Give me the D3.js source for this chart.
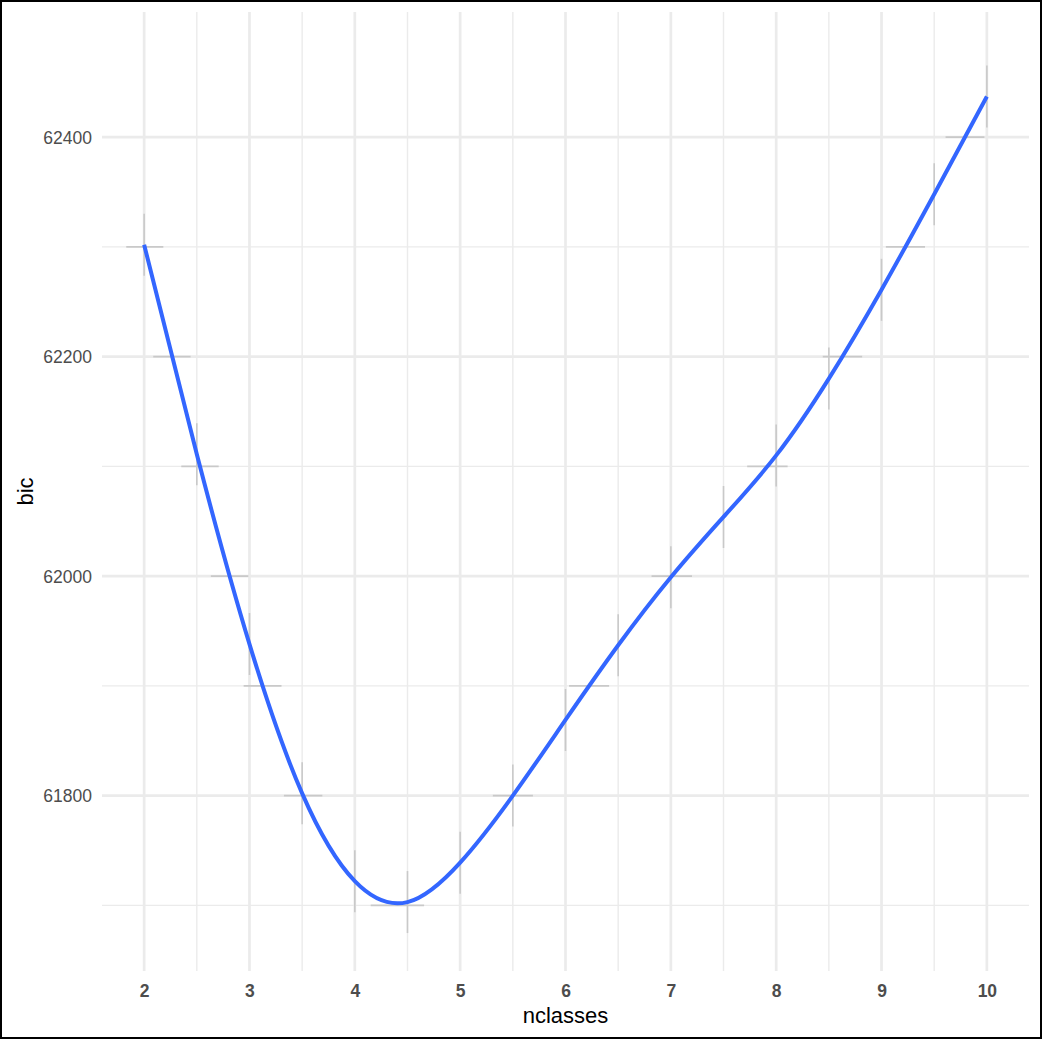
<!DOCTYPE html>
<html><head><meta charset="utf-8">
<script src="https://cdn.jsdelivr.net/npm/d3@7"></script>
<style>
html,body{margin:0;padding:0;background:#fff;}
svg{display:block;}
</style></head>
<body>
<script>
// Data
const nclasses = [2, 2.5, 3, 3.5, 4, 4.5, 5, 5.5, 6, 6.5, 7, 7.5, 8, 8.5, 9, 9.5, 10];
const bic = [62302, 62111, 61938, 61802, 61722, 61703, 61739, 61800, 61869, 61937, 61999, 62054, 62110, 62180, 62261, 62348, 62437];
const xTicks = [2, 3, 4, 5, 6, 7, 8, 9, 10];
const xMinor = [2.5, 3.5, 4.5, 5.5, 6.5, 7.5, 8.5, 9.5];
const yTicks = [61800, 62000, 62200, 62400];
const yMinor = [61700, 61900, 62100, 62300];

(function () {
const W = 1042, H = 1039;
const svg = d3.select("body").append("svg").attr("width", W).attr("height", H);
svg.append("rect").attr("x", 1).attr("y", 1).attr("width", W - 2).attr("height", H - 2)
  .attr("fill", "#fff").attr("stroke", "#000").attr("stroke-width", 2);

const pTop = 12, pBottom = 971, pLeft = 102, pRight = 1029;
const x = d3.scaleLinear().domain([1.6, 10.4]).range([pLeft, pRight]);
const y = d3.scaleLinear().domain([61640.2, 62514]).range([pBottom, pTop]);

const g = svg.append("g");
g.selectAll(".vmin").data(xMinor).join("line")
  .attr("x1", d => x(d)).attr("x2", d => x(d)).attr("y1", pTop).attr("y2", pBottom)
  .attr("stroke", "#ebebeb").attr("stroke-width", 1.4);
g.selectAll(".hmin").data(yMinor).join("line")
  .attr("y1", d => y(d)).attr("y2", d => y(d)).attr("x1", pLeft).attr("x2", pRight)
  .attr("stroke", "#ebebeb").attr("stroke-width", 1.4);
g.selectAll(".vmaj").data(xTicks).join("line")
  .attr("x1", d => x(d)).attr("x2", d => x(d)).attr("y1", pTop).attr("y2", pBottom)
  .attr("stroke", "#ebebeb").attr("stroke-width", 2.7);
g.selectAll(".hmaj").data(yTicks).join("line")
  .attr("y1", d => y(d)).attr("y2", d => y(d)).attr("x1", pLeft).attr("x2", pRight)
  .attr("stroke", "#ebebeb").attr("stroke-width", 2.7);

const marks = svg.append("g");

const pts = nclasses.map((d, i) => [d, bic[i]]);
const line = d3.line().x(d => x(d[0])).y(d => y(d[1])).curve(d3.curveNatural);
const path = svg.append("path").datum(pts).attr("d", line)
  .attr("fill", "none").attr("stroke", "#3366FF").attr("stroke-width", 4);

// faint grey marks on the grid where the curve meets it
const node = path.node();
const L = node.getTotalLength();
const samples = d3.range(0, L + 0.5, 0.5).map(l => node.getPointAtLength(Math.min(l, L)));
function yAtX(px) {
  let best = samples[0];
  for (const s of samples) if (Math.abs(s.x - px) < Math.abs(best.x - px)) best = s;
  return best.y;
}
xTicks.concat(xMinor).forEach(v => {
  const py = yAtX(x(v));
  marks.append("line").attr("x1", x(v)).attr("x2", x(v)).attr("y1", py - 31).attr("y2", py + 31)
    .attr("stroke", "#c9c9c9").attr("stroke-width", 1.6);
});
yTicks.concat(yMinor).forEach(v => {
  const py = y(v);
  const runs = [];
  let cur = null;
  for (let i = 1; i < samples.length; i++) {
    const a = samples[i - 1], b = samples[i];
    const near = Math.abs(b.y - py) < 3 || (a.y - py) * (b.y - py) <= 0;
    if (near) {
      if (!cur) { cur = [b.x, b.x]; runs.push(cur); }
      cur[0] = Math.min(cur[0], b.x); cur[1] = Math.max(cur[1], b.x);
    } else cur = null;
  }
  runs.forEach(r => {
    marks.append("line").attr("x1", r[0] - 18).attr("x2", r[1] + 18).attr("y1", py).attr("y2", py)
      .attr("stroke", "#c9c9c9").attr("stroke-width", 1.6);
  });
});

const font = "Liberation Sans, Arial, Helvetica, sans-serif";
const xAxis = d3.axisBottom(x).tickValues(xTicks).tickSize(0).tickPadding(0);
const ax = svg.append("g").attr("transform", `translate(0,${pBottom})`).call(xAxis);
ax.select(".domain").remove();
ax.selectAll("text").attr("y", 26).attr("dy", null).attr("fill", "#4d4d4d")
  .style("font-family", font).style("font-size", "17.5px").style("font-weight", "bold");

const yAxis = d3.axisLeft(y).tickValues(yTicks).tickSize(0).tickFormat(d3.format("d"));
const ay = svg.append("g").attr("transform", `translate(${pLeft},0)`).call(yAxis);
ay.select(".domain").remove();
ay.selectAll("text").attr("x", -10).attr("dy", "0.36em").attr("fill", "#4d4d4d")
  .style("font-family", font).style("font-size", "17.5px");

svg.append("text").attr("x", (pLeft + pRight) / 2).attr("y", 1023).attr("text-anchor", "middle")
  .style("font-family", font).style("font-size", "22px").attr("fill", "#000").text("nclasses");
svg.append("text").attr("transform", `translate(33,${(pTop + pBottom) / 2}) rotate(-90)`).attr("text-anchor", "middle")
  .style("font-family", font).style("font-size", "22px").attr("fill", "#000").text("bic");
})();
</script>
</body></html>
